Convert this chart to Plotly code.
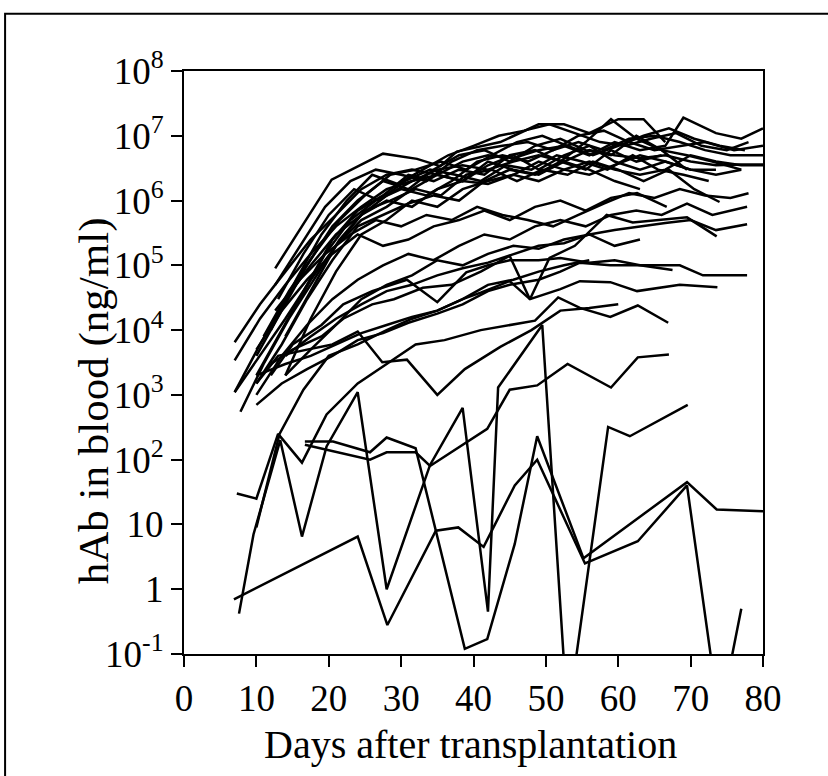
import plotly.graph_objects as go

# hAb concentration (ng/ml) per transplanted mouse
m01_days = [12.6, 20.4, 27.5, 32.2, 35.4, 37.7, 43.7, 49, 52.5, 56, 60, 63.5, 66.5]
m01_hab = [9e4, 2.1e6, 5.3e6, 4.4e6, 3.4e6, 5.7e6, 8e6, 1.5e7, 1.5e7, 1.1e7, 1.8e7, 1.8e7, 8e6]
m02_days = [7, 10.5, 14, 17.5, 21, 24.5, 28, 31.5, 35, 38.5, 42, 45.5, 49, 52.5, 56, 59.5, 63, 66.5, 69, 73.5, 77, 80]
m02_hab = [6.5e3, 2.5e4, 8e4, 2.5e5, 6e5, 1.5e6, 2.5e6, 3e6, 2.5e6, 4e6, 5e6, 4.5e6, 6e6, 7e6, 5e6, 8e6, 6e6, 7e6, 1.9e7, 1.1e7, 9e6, 1.3e7]
m03_days = [7, 10.5, 14, 17.5, 21, 24.5, 28, 31.5, 35, 38.5, 42, 45.5, 49, 52.5, 56, 59.5, 63, 66.5, 70, 73.5, 77, 80]
m03_hab = [3.4e3, 1.5e4, 5e4, 1.5e5, 4e5, 8e5, 1.5e6, 2e6, 3e6, 3.5e6, 3e6, 4e6, 5e6, 4e6, 6e6, 5e6, 4.5e6, 5e6, 4e6, 3.5e6, 3.6e6, 3.6e6]
m04_days = [7, 10.5, 14, 17.5, 21, 24.5, 28, 31.5, 35, 38.5, 42, 45.5, 49, 52.5, 56, 59.5, 63, 66.5, 70, 73.5]
m04_hab = [1.1e3, 6e3, 3e4, 1e5, 3e5, 6e5, 1.2e6, 2e6, 2.5e6, 2e6, 3.5e6, 5e6, 3e6, 5e6, 7e6, 4e6, 3e6, 4e6, 3e6, 3e6]
m05_days = [10, 13.5, 17, 20.5, 24, 27.5, 31, 34.5, 38, 41.5, 45, 48.5, 52, 55.5, 59, 62.5, 66, 69.5, 73, 77]
m05_hab = [4e3, 2e4, 1e5, 4e5, 1e6, 2e6, 1.5e6, 3e6, 5e6, 6e6, 4e6, 7e6, 9e6, 6e6, 5e6, 1e7, 6e6, 5e6, 4e6, 3e6]
m06_days = [12.6, 16, 19.5, 23, 26.5, 30, 33.5, 37, 40.5, 44, 47.5, 51, 54.5, 58, 61.5, 65, 68.5, 72, 76, 80]
m06_hab = [5e4, 2e5, 8e5, 2e6, 3e6, 2.5e6, 2e6, 4e6, 6e6, 7e6, 8e6, 6e6, 1e7, 1.2e7, 8e6, 6e6, 7e6, 8e6, 6e6, 7e6]
m07_days = [10, 13.5, 17, 20.5, 24, 27.5, 31, 34.5, 38, 41.5, 45, 48.5, 52, 55.5, 59, 62.5, 66, 69.5]
m07_hab = [2e3, 1e4, 5e4, 2.5e5, 7e5, 1.2e6, 2.5e6, 2e6, 3e6, 2.5e6, 5e6, 6e6, 4e6, 8e6, 1.8e7, 9e6, 6e6, 3e6]
m08_days = [7.8, 11, 14.5, 18, 21.5, 25, 28.5, 32, 35.5, 39, 42.5, 46, 49.5, 53, 56.5, 60, 63.5, 67, 70.5, 74]
m08_hab = [550, 3e3, 1.5e4, 6e4, 2.5e5, 7e5, 1e6, 1.5e6, 1.2e6, 2.5e6, 3e6, 2e6, 3e6, 2.5e6, 4e6, 3e6, 2e6, 3e6, 1.5e6, 9.5e5]
m09_days = [11, 14.5, 18, 21.5, 25, 28.5, 32, 35.5, 39, 42.5, 46, 49.5, 53, 56.5, 60, 63.5, 67, 70.5, 74, 77.5]
m09_hab = [8e3, 4e4, 1.5e5, 5e5, 1.2e6, 2.5e6, 3e6, 4e6, 3e6, 5e6, 8e6, 1e7, 7e6, 5e6, 7e6, 1e7, 1.3e7, 9e6, 7e6, 6e6]
m10_days = [13, 16.5, 20, 23.5, 27, 30.5, 34, 37.5, 41, 44.5, 48, 51.5, 55, 58.5, 62, 65.5, 69, 72.5]
m10_hab = [3e4, 1.5e5, 6e5, 1.5e6, 1e6, 2e6, 3e6, 2.5e6, 2e6, 3.5e6, 3e6, 5e6, 4e6, 3e6, 5e6, 3e6, 2.5e6, 2e6]
m11_days = [14, 17.5, 21, 24.5, 28, 31.5, 35, 38.5, 42, 45.5, 49, 52.5, 56, 59.5, 63, 66.5, 70, 73.5, 77, 80]
m11_hab = [8e3, 4e4, 2e5, 6e5, 1e6, 8e5, 1.5e6, 2e6, 1.8e6, 2.5e6, 2e6, 3e6, 4e6, 3e6, 2.5e6, 3e6, 5e6, 4e6, 3.5e6, 3.5e6]
m12_days = [10, 13.5, 17, 20.5, 24, 27.5, 31, 34.5, 38, 41.5, 45, 48.5, 52, 55.5, 59, 62.5, 66]
m12_hab = [1.5e3, 6e3, 3e4, 1.2e5, 4e5, 6e5, 9e5, 1.2e6, 1e6, 2e6, 3e6, 2.5e6, 4e6, 3e6, 6e6, 4e6, 5e6]
m13_days = [16, 19.5, 23, 26.5, 30, 33.5, 37, 40.5, 44, 47.5, 51, 54.5, 58, 61.5, 65, 68.5, 72, 75.5, 80]
m13_hab = [3e4, 1.5e5, 5e5, 1e6, 1.5e6, 1.2e6, 2e6, 4e6, 5e6, 4e6, 6e6, 8e6, 6e6, 9e6, 1e7, 8e6, 6e6, 5e6, 5e6]
m14_days = [7, 10.5, 14, 17.5, 21, 24.5, 28, 31.5, 35, 38.5, 42, 45.5, 49, 52.5, 56, 59.5, 63]
m14_hab = [1.1e3, 4e3, 1.5e4, 6e4, 2e5, 5e5, 8e5, 1.5e6, 2.5e6, 2e6, 4e6, 3e6, 2.5e6, 4e6, 3e6, 2e6, 1.5e6]
m15_days = [12, 15.5, 19, 22.5, 26, 29.5, 33, 36.5, 40, 43.5, 47, 50.5, 54, 57.5, 61, 64.5, 68, 71.5, 75, 78]
m15_hab = [1e4, 6e4, 3e5, 1e6, 2.5e6, 1.8e6, 3e6, 5e6, 7e6, 1e7, 1.2e7, 1.5e7, 1.1e7, 8e6, 7e6, 9e6, 1.1e7, 7e6, 6e6, 8e6]
m16_days = [14, 17.5, 21, 24.5, 28, 31.5, 35, 38.5, 42, 45.5, 49, 52.5, 56, 59.5, 63, 66.5, 70, 73.5, 77]
m16_hab = [2e3, 1.5e4, 8e4, 3e5, 5e5, 1e6, 8e5, 1.5e6, 2e6, 2.5e6, 4e6, 3e6, 2.5e6, 3.5e6, 5e6, 4e6, 3e6, 2.5e6, 3e6]
m17_days = [10, 13.5, 17, 20.5, 24, 27.5, 31, 35, 38.5, 42, 45, 49, 52, 54.7, 58.9, 62, 68.5, 71.7, 77.8]
m17_hab = [700, 1.5e3, 2.5e3, 4e3, 7e3, 9e3, 1.3e4, 1.8e4, 2.5e4, 4e4, 5e4, 6e4, 8e4, 1.1e5, 1e5, 1e5, 1e5, 7e4, 7e4]
m18_days = [10, 14, 17.5, 21, 24.5, 28, 31.5, 35, 38.5, 41, 45, 47.8, 52, 54.7, 58.9, 62.6, 68.5, 73.7]
m18_hab = [2e3, 3e3, 4e3, 6e3, 9e3, 1.2e4, 1.6e4, 2e4, 3e4, 3.8e4, 5.7e4, 3e4, 4.3e4, 5.7e4, 5.5e4, 4e4, 5e4, 4.6e4]
m19_days = [12, 15, 19, 22, 26, 29, 33, 37, 41, 45, 47.8, 50.5, 54, 58.4, 62, 66, 69.5, 73.6]
m19_hab = [3e3, 5e3, 8e3, 1.5e4, 2.5e4, 3e4, 4.5e4, 5e4, 8e4, 1.4e5, 3e4, 1.3e5, 2e5, 6e5, 4.6e5, 5e5, 5.5e5, 2.8e5]
m20_days = [14, 17.5, 21, 24.5, 28, 31.5, 35, 38.5, 42, 45.5, 49, 52.5, 56, 59.5, 63, 66.5, 70, 73.5, 77.8]
m20_hab = [4e3, 8e3, 1.5e4, 2.5e4, 4e4, 5e4, 7e4, 9e4, 1.1e5, 1.5e5, 2e5, 2.2e5, 3e5, 3.5e5, 4e5, 4.5e5, 5e5, 3.5e5, 4.3e5]
m21_days = [10, 13.5, 17, 20.5, 24, 27.5, 31, 34.5, 38, 41.5, 45, 48.5, 52, 55.5, 59, 62.5, 66, 69.5, 73, 77.8]
m21_hab = [1e3, 4e3, 1.2e4, 3e4, 6e4, 1e5, 1.5e5, 1.2e5, 2e5, 3e5, 2.5e5, 4e5, 5e5, 4e5, 6e5, 7e5, 6e5, 9e5, 6e5, 8e5]
m22_days = [12.6, 16, 19.5, 23, 26.5, 30, 33.5, 37, 40.5, 44, 47.5, 51, 54.5, 58, 61.5, 65, 68.5, 72, 75.5, 78]
m22_hab = [2e4, 6e4, 1.5e5, 3e5, 5e5, 4e5, 6e5, 5e5, 8e5, 6e5, 5e5, 4e5, 6e5, 9e5, 1.3e6, 1.1e6, 1.5e6, 1.2e6, 1.1e6, 1.3e6]
m23_days = [10, 13.5, 17, 20.5, 24, 27.5, 31, 34.5, 38, 41.5, 45, 48.5, 52, 55.5, 59, 62.6, 66.7]
m23_hab = [5e3, 2e4, 6e4, 1.5e5, 3e5, 2e5, 2.5e5, 4e5, 5e5, 7e5, 5e5, 8e5, 1e6, 7e5, 1.1e6, 1.3e6, 8e5]
m24_days = [14, 17.5, 21, 24.5, 28, 31.5, 35, 38.5, 42, 45.5, 49, 52.5, 56, 59.5, 63]
m24_hab = [2e3, 5e3, 1.2e4, 3e4, 5e4, 7e4, 1.2e5, 1e5, 1.5e5, 2e5, 1.8e5, 2.5e5, 3e5, 2e5, 2.5e5]
m25_days = [6.9, 24, 28.1, 34.8, 37.9, 41.4, 45.7, 48.8, 55.4, 62.7, 69.5, 74, 77]
m25_hab = [0.7, 6.5, 0.28, 8, 9, 4.5, 40, 100, 2.5, 5.5, 40, 0.01, 0.5]
m26_days = [16.7, 20.6, 25.7, 28, 32, 38.8, 41.9, 45.7, 48.8, 55.2, 69.5, 73.6, 80]
m26_hab = [190, 190, 130, 220, 150, 0.12, 0.17, 5, 230, 3, 45, 17, 16]
m27_days = [16.7, 25.7, 28, 32, 34, 41.9, 45, 48.8, 53, 59, 62.7, 67]
m27_hab = [170, 100, 130, 130, 80, 300, 1.2e3, 1.4e3, 3e3, 1.3e3, 3.8e3, 4.2e3]
m28_days = [7.6, 9.6, 13.3, 16.3, 19.7, 24, 28, 34, 38.5, 42, 43.4, 49.5, 53, 58.6, 61.6, 69.6]
m28_hab = [0.42, 7, 200, 6.5, 160, 1.1e3, 1.0, 83, 630, 0.45, 1.3e3, 1.2e4, 0.01, 320, 230, 700]
m29_days = [7.3, 10, 13, 16.3, 19.7, 24, 28, 32, 36, 41, 48.5, 51.7, 54.7, 58.9, 62.7, 66.9]
m29_hab = [30, 25, 250, 90, 500, 1.5e3, 3e3, 6e3, 7e3, 1e4, 1.4e4, 3.2e4, 2.2e4, 1.6e4, 2.4e4, 1.3e4]
m30_days = [10, 13.2, 16.5, 20, 24, 28, 31.5, 35, 38.5, 42, 45.5, 49, 52.5, 56]
m30_hab = [9, 250, 1.2e3, 4e3, 6e3, 1e4, 1.5e4, 2e4, 3e4, 5e4, 6e4, 8e4, 1e5, 1.2e5]
m31_days = [10, 13, 17, 20.5, 24, 27.4, 30.8, 35, 38.8, 43.7, 48, 52, 56, 60]
m31_hab = [1.5e3, 4e3, 5e3, 6e3, 9.5e3, 3.2e3, 3.5e3, 1e3, 2.5e3, 5.5e3, 1e4, 2e4, 2.2e4, 2.5e4]
m32_days = [12, 15, 19, 22, 26, 30.8, 35, 39, 42, 45, 49, 52, 56, 59.5, 63, 67.5]
m32_hab = [2e3, 6e3, 1.2e4, 2.5e4, 4e4, 6e4, 2.7e4, 7.8e4, 1e5, 1.2e5, 1.2e5, 1.3e5, 1.1e5, 1.2e5, 1e5, 8.5e4]

mice = [
    (m01_days, m01_hab), (m02_days, m02_hab), (m03_days, m03_hab), (m04_days, m04_hab),
    (m05_days, m05_hab), (m06_days, m06_hab), (m07_days, m07_hab), (m08_days, m08_hab),
    (m09_days, m09_hab), (m10_days, m10_hab), (m11_days, m11_hab), (m12_days, m12_hab),
    (m13_days, m13_hab), (m14_days, m14_hab), (m15_days, m15_hab), (m16_days, m16_hab),
    (m17_days, m17_hab), (m18_days, m18_hab), (m19_days, m19_hab), (m20_days, m20_hab),
    (m21_days, m21_hab), (m22_days, m22_hab), (m23_days, m23_hab), (m24_days, m24_hab),
    (m25_days, m25_hab), (m26_days, m26_hab), (m27_days, m27_hab), (m28_days, m28_hab),
    (m29_days, m29_hab), (m30_days, m30_hab), (m31_days, m31_hab), (m32_days, m32_hab),
]

y_tickvals = [0.1, 1, 10, 1e2, 1e3, 1e4, 1e5, 1e6, 1e7, 1e8]
y_ticktext = ["10<sup>-1</sup>", "1", "10", "10<sup>2</sup>", "10<sup>3</sup>", "10<sup>4</sup>",
              "10<sup>5</sup>", "10<sup>6</sup>", "10<sup>7</sup>", "10<sup>8</sup>"]
x_tickvals = [0, 10, 20, 30, 40, 50, 60, 70, 80]

FONT = "Liberation Serif, Times New Roman, serif"

fig = go.Figure()
for d, v in mice:
    fig.add_trace(go.Scatter(x=d, y=v, mode="lines",
                             line=dict(color="black", width=2.5),
                             showlegend=False, hoverinfo="skip"))

axis_common = dict(showgrid=False, zeroline=False, showline=True, linecolor="black",
                   linewidth=2, mirror=True, ticks="outside", ticklen=11, tickwidth=2,
                   tickcolor="black", tickfont=dict(family=FONT, size=37, color="black"))

fig.update_xaxes(range=[0, 80], tickvals=x_tickvals, **axis_common)
fig.update_yaxes(type="log", range=[-1, 8], tickvals=y_tickvals, ticktext=y_ticktext,
                 **axis_common)

fig.update_layout(
    width=828, height=776,
    margin=dict(l=184, r=65, t=71, b=122),
    paper_bgcolor="white", plot_bgcolor="white",
    font=dict(family=FONT, color="black"),
    annotations=[
        dict(text="Days after transplantation", xref="paper", yref="paper",
             x=0.494, y=-0.156, xanchor="center", yanchor="middle",
             showarrow=False, font=dict(size=40)),
        dict(text="hAb in blood (ng/ml)", xref="paper", yref="paper", textangle=-90,
             x=-0.154, y=0.435, xanchor="center", yanchor="middle",
             showarrow=False, font=dict(size=43)),
    ],
    shapes=[
        # scanned page frame around the figure
        dict(type="rect", xref="paper", yref="paper", x0=-0.309, x1=1.125,
             y0=-0.25, y1=1.098, line=dict(color="black", width=2)),
    ],
)

# drop the browser's default body margin so the figure sits at the page corner
fig.write_html("out.html", config={"displayModeBar": False},
               post_script="document.body.style.margin='0';")
